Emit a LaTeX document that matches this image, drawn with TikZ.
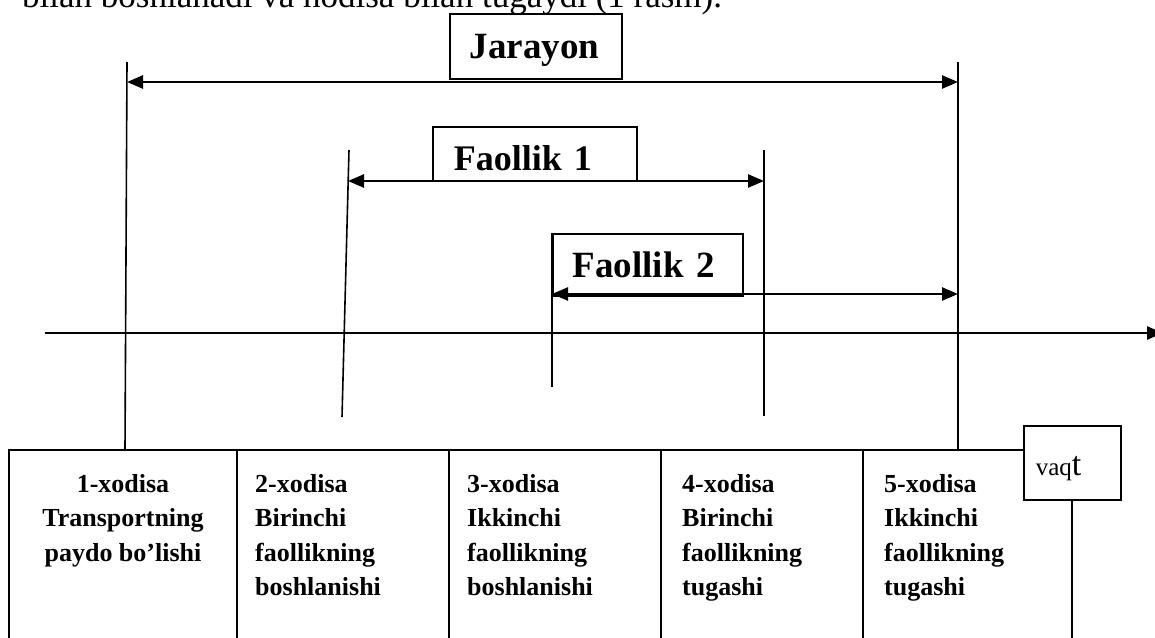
\documentclass[tikz,border=0pt]{standalone}
\usepackage{fontspec}
\setmainfont{Liberation Serif}
\usetikzlibrary{arrows.meta, positioning}
\newcommand{\headfont}{\fontsize{37}{40}\selectfont\bfseries}
\newcommand{\evfont}{\fontsize{26}{34.4}\selectfont\bfseries}
\newcommand{\bodyfont}{\fontsize{35}{38}\selectfont}

\begin{document}
\begin{tikzpicture}[x=1pt, y=-1pt,
  lbl/.style={draw, fill=white, line width=1.5pt, inner ysep=0pt,
    anchor=north west, align=left, font=\headfont},
  evline/.style={line width=1.6pt},
  arr/.style={{Triangle[length=16pt,width=13pt]}-{Triangle[length=16pt,width=13pt]}, line width=2.5pt},
  axis/.style={-{Triangle[length=16pt,width=13pt]}, line width=2.5pt},
  evtext/.style={anchor=north west, inner sep=0pt, align=left, font=\evfont}
]
\useasboundingbox (0,0) rectangle (1155,637);
\clip (0,0) rectangle (1155,637);

% Running text above the figure
\node[anchor=base west, inner sep=0pt, font=\bodyfont] (cap) at (22,7)
  {bilan boshlanadi va hodisa bilan tugaydi (1 rasm).};

% Label boxes
\node[lbl, text width=132pt, inner xsep=20pt, text height=45pt, text depth=20pt] (jar) at (449,13) {Jarayon};
\node[lbl, font=\fontsize{36}{40}\selectfont\bfseries, text width=162pt, inner xsep=21pt, text height=44pt, text depth=10pt] (fa1) at (432,126) {Faollik 1};
\node[lbl, text width=150pt, inner xsep=20pt, text height=44pt, text depth=18pt] (fa2) at (552,233) {Faollik 2};
\node[lbl, font=\fontsize{25}{25}\selectfont, text width=73pt, inner xsep=12pt, text height=50pt, text depth=24pt]
  (vaqt) at (1023,425) {vaq{\fontsize{34}{34}\selectfont t}};

% Event lines
\coordinate (e1t) at (127,62);  \coordinate (e1b) at (125,450);
\coordinate (e2t) at (349,150); \coordinate (e2b) at (342,417);
\coordinate (e3t) at (552,233); \coordinate (e3b) at (552,387);
\coordinate (e4t) at (764,150); \coordinate (e4b) at (764,416);
\coordinate (e5t) at (958,62);  \coordinate (e5b) at (958,450);
\draw[evline] (e1t) -- (e1b);
\draw[evline] (e2t) -- (e2b);
\draw[evline] (e3t) -- (e3b);
\draw[evline] (e4t) -- (e4b);
\draw[evline] (e5t) -- (e5b);

% Arrows
\coordinate (j1) at (127,82);  \coordinate (j5) at (958,82);
\coordinate (f1a) at (348,181); \coordinate (f1b) at (764,181);
\coordinate (f2a) at (552,294); \coordinate (f2b) at (958,294);
\draw[arr] (j1) -- (j5);
\draw[arr] (f1a) -- (f1b);
\draw[arr] (f2a) -- (f2b);

% Time axis
\coordinate (ax0) at (45,333);
\coordinate (ax1) at (1163,333);
\draw[axis] (ax0) -- (ax1);

% Event table
\coordinate (tl) at (9,450);
\draw[evline] (9,640) -- (tl) -- (tl -| vaqt.west);
\draw[evline] (237,450) -- (237,640);
\draw[evline] (449,450) -- (449,640);
\draw[evline] (661,450) -- (661,640);
\draw[evline] (863,450) -- (863,640);
\draw[evline] (vaqt.south) -- ++(0,145);

\node[evtext, anchor=north, align=center] (ev1) at (123,474) {1-xodisa\\Transportning\\paydo bo’lishi};
\node[evtext] (ev2) at (255,474) {2-xodisa\\Birinchi\\faollikning\\boshlanishi};
\node[evtext] (ev3) at (467,474) {3-xodisa\\Ikkinchi\\faollikning\\boshlanishi};
\node[evtext] (ev4) at (682,474) {4-xodisa\\Birinchi\\faollikning\\tugashi};
\node[evtext] (ev5) at (884,474) {5-xodisa\\Ikkinchi\\faollikning\\tugashi};

\end{tikzpicture}
\end{document}
